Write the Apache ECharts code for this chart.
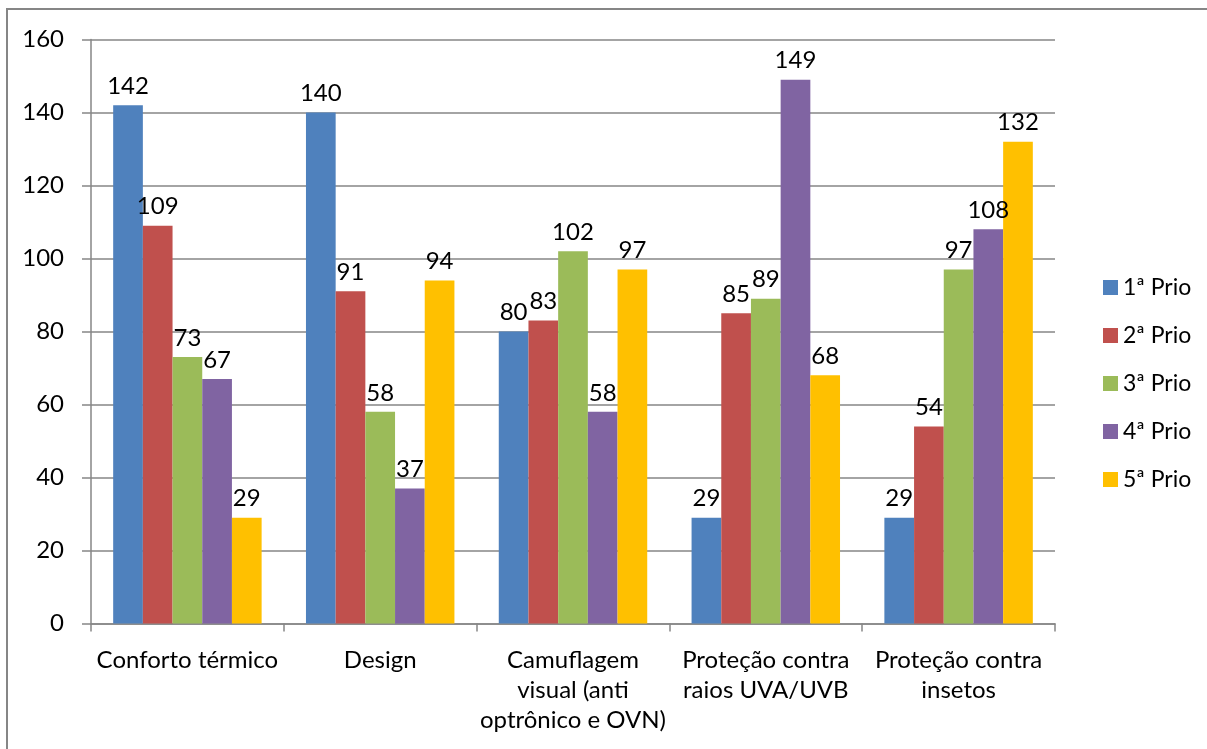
<!DOCTYPE html>
<html><head><meta charset="utf-8">
<script src="https://cdn.jsdelivr.net/npm/echarts@6/dist/echarts.min.js"></script>
<style>html,body{margin:0;padding:0;background:#fff}#c{width:1207px;height:749px}</style>
</head><body><div id="c"></div>
<script>
const categories = ["Conforto térmico", "Design", "Camuflagem\nvisual (anti\noptrônico e OVN)", "Proteção contra\nraios UVA/UVB", "Proteção contra\ninsetos"];
const seriesNames = ["1ª Prio", "2ª Prio", "3ª Prio", "4ª Prio", "5ª Prio"];
const prio1 = [142, 140, 80, 29, 29];
const prio2 = [109, 91, 83, 85, 54];
const prio3 = [73, 58, 102, 89, 97];
const prio4 = [67, 37, 58, 149, 108];
const prio5 = [29, 94, 97, 68, 132];
const yTicks = [0, 20, 40, 60, 80, 100, 120, 140, 160];
const colors = ["#4F81BD", "#C0504D", "#9BBB59", "#8064A2", "#FFC000"];

const FONT = "Lato";
const FS = 24;
const values = [prio1, prio2, prio3, prio4, prio5];
const chart = echarts.init(document.getElementById('c'), null, {renderer: 'canvas'});
chart.setOption({
  animation: false,
  backgroundColor: '#fff',
  textStyle: {fontFamily: FONT},
  graphic: [{
    type: 'rect', shape: {x: 7, y: 9, width: 1300, height: 900},
    style: {fill: 'none', stroke: '#868686', lineWidth: 2}, silent: true
  }],
  grid: {left: 91, right: 152, top: 39.5, height: 584, containLabel: false},
  legend: {
    orient: 'vertical', left: 1098, top: 271,
    itemWidth: 15, itemHeight: 15, itemGap: 25,
    icon: 'rect',
    textStyle: {fontFamily: FONT, fontSize: FS - 1, color: '#000'},
    data: seriesNames
  },
  xAxis: {
    type: 'category', data: categories,
    axisLine: {lineStyle: {color: '#868686', width: 1.5}},
    axisTick: {show: true, length: 8, lineStyle: {color: '#868686', width: 1.5}},
    axisLabel: {fontFamily: FONT, fontSize: FS, color: '#000', margin: 22, lineHeight: 30, interval: 0}
  },
  yAxis: {
    type: 'value', min: yTicks[0], max: yTicks[yTicks.length - 1], interval: 20,
    axisLine: {show: true, lineStyle: {color: '#868686', width: 1.5}},
    axisTick: {show: true, length: 9, lineStyle: {color: '#868686', width: 1.5}},
    splitLine: {lineStyle: {color: '#868686', width: 1.5}},
    axisLabel: {fontFamily: FONT, fontSize: FS, color: '#000', margin: 27}
  },
  series: seriesNames.map((n, i) => ({
    name: n, type: 'bar', data: values[i],
    barGap: '0%', barCategoryGap: '23%',
    itemStyle: {color: colors[i]},
    label: {show: true, position: 'top', distance: 7, fontFamily: FONT, fontSize: FS, color: '#000'}
  }))
});
</script></body></html>
